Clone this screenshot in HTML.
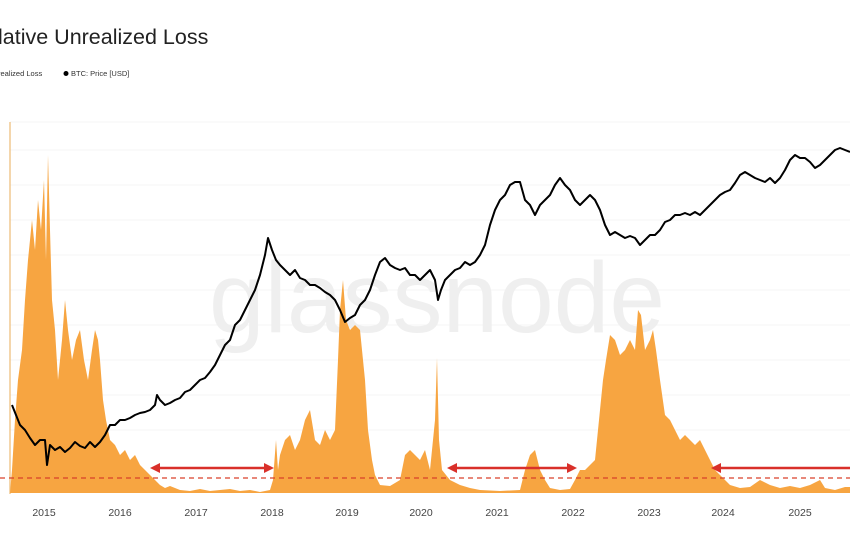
<!DOCTYPE html>
<html><head><style>
body{margin:0;width:850px;height:541px;background:#fff;overflow:hidden;font-family:"Liberation Sans",sans-serif}
</style></head><body>
<svg width="850" height="541" xmlns="http://www.w3.org/2000/svg" style="position:absolute;left:0;top:0">
<text x="-2" y="44" font-size="21.5" fill="#222" font-family="Liberation Sans,sans-serif">lative Unrealized Loss</text>
<text x="-2" y="76" font-size="7.5" fill="#333">realized Loss</text>
<circle cx="66" cy="73.5" r="2.5" fill="#000"/>
<text x="71" y="76" font-size="7.5" fill="#333">BTC: Price [USD]</text>
<g stroke="#f4f4f4" stroke-width="1">
<line x1="10" y1="122" x2="850" y2="122"/><line x1="10" y1="150" x2="850" y2="150"/>
<line x1="10" y1="185" x2="850" y2="185"/><line x1="10" y1="220" x2="850" y2="220"/>
<line x1="10" y1="255" x2="850" y2="255"/><line x1="10" y1="290" x2="850" y2="290"/>
<line x1="10" y1="325" x2="850" y2="325"/><line x1="10" y1="360" x2="850" y2="360"/>
<line x1="10" y1="395" x2="850" y2="395"/><line x1="10" y1="430" x2="850" y2="430"/>
</g>
<text x="437" y="332" font-size="100" fill="#efefef" text-anchor="middle">glassnode</text>
<line x1="10" y1="122" x2="10" y2="494" stroke="#f0c890" stroke-width="1.5"/>
<polygon fill="#f7a541" points="10,493 12,470 15,420 18,380 22,350 25,300 28,260 32,220 35,250 38,200 41,230 44,180 46,260 48,155 50,230 52,300 55,330 58,380 62,340 65,300 68,330 72,360 76,340 80,330 84,360 88,380 92,350 95,330 98,340 100,360 103,400 106,420 110,440 115,445 120,455 125,450 130,460 135,455 140,465 145,470 150,475 155,480 160,485 165,488 170,486 180,490 190,491 200,489 210,491 220,490 230,489 240,491 250,490 260,492 270,490 273,480 276,440 278,470 280,455 285,440 290,435 295,450 300,440 305,420 310,410 315,440 320,445 325,430 330,440 335,430 338,360 340,310 343,280 346,320 350,330 355,325 360,330 365,380 368,430 372,460 375,475 380,485 390,486 400,480 405,455 410,450 415,455 420,460 425,450 430,470 435,420 437,358 439,440 442,470 450,480 460,485 470,488 480,490 500,491 520,490 525,470 530,455 535,450 540,470 545,480 550,488 560,490 570,489 575,480 580,470 585,470 590,465 595,460 600,410 603,380 606,360 610,335 615,340 620,355 625,350 630,340 635,350 638,310 641,315 645,350 650,340 653,330 656,350 660,380 665,415 670,420 675,430 680,440 685,435 690,440 695,445 700,440 705,450 710,460 715,470 720,475 730,485 740,488 750,487 760,480 770,485 780,488 790,486 800,488 810,485 820,480 825,488 835,490 845,487 850,487 850,493"/>
<line x1="0" y1="478" x2="850" y2="478" stroke="#d9402a" stroke-width="1.3" stroke-dasharray="5,4"/>
<polyline fill="none" stroke="#000" stroke-width="2" stroke-linejoin="round" points="12,405 16,415 20,425 25,430 30,438 35,445 40,440 45,440 47,465 50,445 55,450 60,447 65,452 70,448 75,442 80,446 85,448 90,442 95,447 100,442 105,435 110,425 115,425 120,420 125,420 130,418 135,415 140,413 145,412 150,410 155,405 157,395 160,400 165,405 170,403 175,400 180,398 185,392 190,390 195,385 200,380 205,378 210,372 215,365 220,355 225,345 230,340 235,325 240,320 245,310 250,300 255,290 260,275 265,255 268,238 272,250 276,260 280,265 285,270 290,275 295,270 300,278 305,280 310,285 315,285 320,288 325,292 330,295 335,300 340,310 345,322 350,318 355,315 360,305 365,300 370,290 375,275 380,262 385,258 390,265 395,268 400,270 405,268 410,275 415,275 420,280 425,275 430,270 435,280 438,300 441,290 445,280 450,275 455,270 460,268 465,262 470,265 475,262 480,255 485,245 490,225 495,210 500,200 505,195 510,185 515,182 520,182 525,200 530,205 535,215 540,205 545,200 550,195 555,185 560,178 565,185 570,190 575,200 580,205 585,200 590,195 595,200 600,210 605,225 610,235 615,232 620,235 625,238 630,236 635,238 640,245 645,240 650,235 655,235 660,230 665,222 670,220 675,215 680,215 685,213 690,215 695,212 700,215 705,210 710,205 715,200 720,195 725,192 730,190 735,183 740,175 745,172 750,175 755,178 760,180 765,182 770,178 775,183 780,178 785,170 790,160 795,155 800,158 805,158 810,162 815,168 820,165 825,160 830,155 835,150 840,148 845,150 850,152"/>
<g stroke="#d9302a" stroke-width="2.5" fill="#d9302a">
<line x1="158" y1="468" x2="264" y2="468"/><polygon stroke="none" points="150,468 160,463 160,473"/><polygon stroke="none" points="274,468 264,463 264,473"/>
<line x1="455" y1="468" x2="567" y2="468"/><polygon stroke="none" points="447,468 457,463 457,473"/><polygon stroke="none" points="577,468 567,463 567,473"/>
<line x1="720" y1="468" x2="850" y2="468"/><polygon stroke="none" points="711,468 721,463 721,473"/>
</g>
<g font-size="10.5" fill="#444" text-anchor="middle">
<text x="44" y="516">2015</text><text x="120" y="516">2016</text><text x="196" y="516">2017</text><text x="272" y="516">2018</text><text x="347" y="516">2019</text><text x="421" y="516">2020</text><text x="497" y="516">2021</text><text x="573" y="516">2022</text><text x="649" y="516">2023</text><text x="723" y="516">2024</text><text x="800" y="516">2025</text>
</g>
</svg>
</body></html>
